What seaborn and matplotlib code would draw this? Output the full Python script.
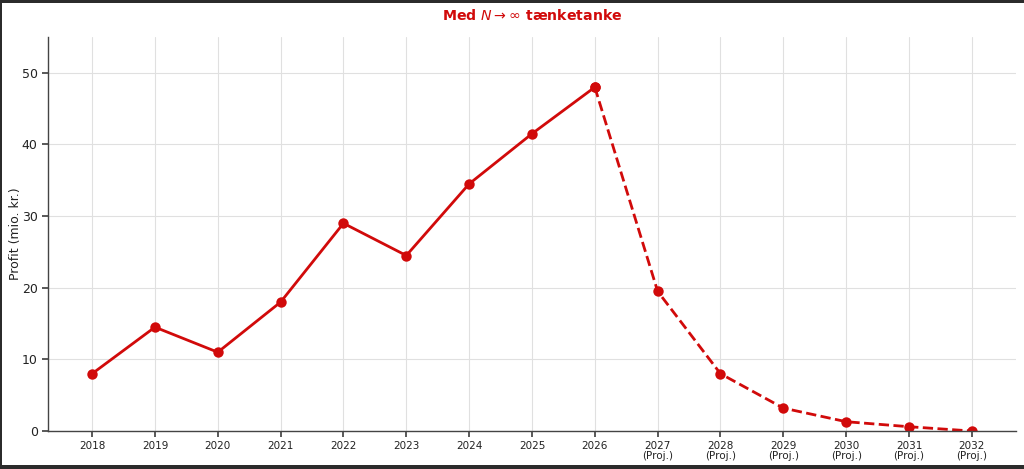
import pandas as pd
import matplotlib
matplotlib.use("Agg")
import matplotlib.pyplot as plt
from matplotlib.patches import Rectangle
import seaborn as sns

years_actual = [2018, 2019, 2020, 2021, 2022, 2023, 2024, 2025, 2026]
profit_actual = [8, 14.5, 11, 18, 29, 24.5, 34.5, 41.5, 48]
years_proj = [2026, 2027, 2028, 2029, 2030, 2031, 2032]
profit_proj = [48, 19.5, 8, 3.2, 1.3, 0.6, 0]
tick_years = list(range(2018, 2033))
tick_labels = [str(y) if y <= 2026 else f"{y}\n(Proj.)" for y in tick_years]

RED = "#d10a0a"

sns.set_theme(style="whitegrid")
plt.rcParams['font.family'] = ['DejaVu Sans']

W, H = 1024, 469
fig = plt.figure(figsize=(W / 100, H / 100), dpi=100)
ax = fig.add_axes([0.047, 0.081, 0.945, 0.84])

# dark frame around the screenshot (top, left, bottom)
frame = "#2b2b2b"
for x0, y0, w, h in [(0, 1 - 3 / H, 1, 3 / H), (0, 0, 2 / W, 1), (0, 0, 1, 4 / H)]:
    fig.add_artist(Rectangle((x0, y0), w, h, transform=fig.transFigure,
                             facecolor=frame, edgecolor="none", zorder=10))

df_a = pd.DataFrame({"year": years_actual, "profit": profit_actual})
df_p = pd.DataFrame({"year": years_proj, "profit": profit_proj})

sns.lineplot(data=df_p, x="year", y="profit", ax=ax, color=RED, linewidth=2,
             linestyle="--", marker="o", markersize=7.5, markeredgewidth=0)
sns.lineplot(data=df_a, x="year", y="profit", ax=ax, color=RED, linewidth=2,
             marker="o", markersize=7.5, markeredgewidth=0)

ax.set_facecolor("white")
ax.set_ylim(0, 55)
ax.set_xlim(2017.3, 2032.7)
ax.set_xticks(tick_years)
ax.set_xticklabels(tick_labels, fontsize=7.5, linespacing=1.0)
ax.tick_params(axis="y", labelsize=9, length=4, color="#444", left=True,
               labelcolor="#222")
ax.tick_params(axis="x", length=4, color="#444", bottom=True, pad=3,
               labelcolor="#222")
ax.set_xlabel("")
ax.set_ylabel("Profit (mio. kr.)", fontsize=9, color="#222")
ax.yaxis.set_label_coords(-0.027, 0.5)
ax.grid(True, color="#e0e0e0", linewidth=0.8)
for s in ["top", "right"]:
    ax.spines[s].set_visible(False)
for s in ["left", "bottom"]:
    ax.spines[s].set_color("#444")
    ax.spines[s].set_linewidth(1)
ax.set_title(r"Med $N \to \infty$ tænketanke", color=RED, fontsize=10.2,
             fontweight="bold", pad=12)

fig.savefig("out.png", dpi=100)
